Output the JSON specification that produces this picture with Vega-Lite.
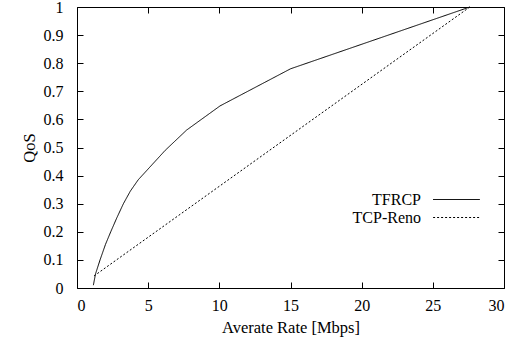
{
  "$schema": "https://vega.github.io/schema/vega-lite/v6.json",
  "width": 427,
  "height": 281,
  "autosize": {"type": "none"},
  "padding": {"left": 77, "top": 7, "right": 20, "bottom": 62},
  "config": {
    "font": "Liberation Serif",
    "view": {"stroke": "black", "strokeWidth": 1},
    "axis": {"grid": false, "domain": false, "tickColor": "black", "tickSize": -6, "labelColor": "black", "labelFont": "Liberation Serif", "labelFontSize": 16, "titleFont": "Liberation Serif", "titleFontSize": 16.5, "titleFontWeight": "normal", "titleColor": "black"},
    "legend": {"labelFont": "Liberation Serif"}
  },
  "data": {"values": [
    {"rate": 1.15, "qos": 0.01, "s": "TFRCP"},
    {"rate": 1.3, "qos": 0.05, "s": "TFRCP"},
    {"rate": 1.62, "qos": 0.1, "s": "TFRCP"},
    {"rate": 2.0, "qos": 0.155, "s": "TFRCP"},
    {"rate": 2.37, "qos": 0.2, "s": "TFRCP"},
    {"rate": 2.8, "qos": 0.25, "s": "TFRCP"},
    {"rate": 3.26, "qos": 0.3, "s": "TFRCP"},
    {"rate": 3.75, "qos": 0.345, "s": "TFRCP"},
    {"rate": 4.3, "qos": 0.385, "s": "TFRCP"},
    {"rate": 6.2, "qos": 0.49, "s": "TFRCP"},
    {"rate": 7.7, "qos": 0.562, "s": "TFRCP"},
    {"rate": 10.05, "qos": 0.648, "s": "TFRCP"},
    {"rate": 15.0, "qos": 0.78, "s": "TFRCP"},
    {"rate": 27.6, "qos": 1.0, "s": "TFRCP"},
    {"rate": 1.2, "qos": 0.043, "s": "TCP-Reno"},
    {"rate": 27.6, "qos": 1.0, "s": "TCP-Reno"}
  ]},
  "layer": [
    {
      "mark": {"type": "line", "color": "black", "strokeWidth": 1},
      "encoding": {
        "x": {"field": "rate", "type": "quantitative", "scale": {"domain": [0, 30], "nice": false}, "axis": {"title": "Averate Rate [Mbps]", "tickCount": 6, "labelPadding": 15, "titlePadding": 6}},
        "y": {"field": "qos", "type": "quantitative", "scale": {"domain": [0, 1], "nice": false}, "axis": {"title": "QoS", "tickCount": 10, "format": "~g", "labelPadding": 20, "titlePadding": 6}},
        "strokeDash": {"field": "s", "type": "nominal", "scale": {"domain": ["TFRCP", "TCP-Reno"], "range": [[1, 0], [2, 2]]}, "legend": {"title": null, "orient": "none", "legendX": 370, "legendY": 183, "symbolType": "M-2.6,0H2.6", "symbolSize": 324, "symbolStrokeColor": "black", "symbolStrokeWidth": 1, "labelAlign": "right", "labelOffset": -45, "labelFontSize": 16, "labelColor": "black", "rowPadding": 0, "labelLimit": 300}},
        "detail": {"field": "s"}
      }
    },
    {
      "mark": {"type": "point", "opacity": 0},
      "encoding": {
        "x": {"field": "rate", "type": "quantitative", "axis": {"orient": "top", "labels": false, "title": null, "tickCount": 6}},
        "y": {"field": "qos", "type": "quantitative", "axis": {"orient": "right", "labels": false, "title": null, "tickCount": 10}}
      }
    }
  ],
  "resolve": {"axis": {"x": "independent", "y": "independent"}}
}
